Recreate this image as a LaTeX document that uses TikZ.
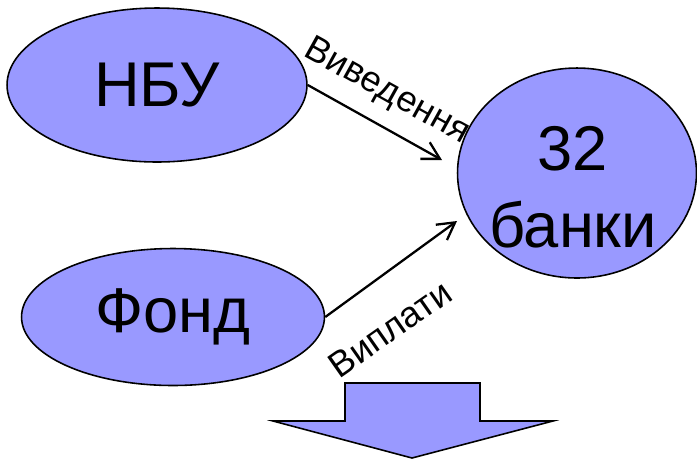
\documentclass[tikz,border=0pt]{standalone}
\usepackage{fontspec}
\setmainfont{Liberation Sans}
\usetikzlibrary{arrows.meta,shapes.geometric}
\definecolor{bankblue}{HTML}{9999FF}

\begin{document}
\begin{tikzpicture}[x=0.02cm, y=-0.02cm,
  oval/.style={ellipse, draw=black, line width=0.9pt, fill=bankblue, inner sep=0pt,
    font=\fontsize{36}{44}\selectfont, align=center},
  flow/.style={black, line width=1.3pt, -{Straight Barb[length=0.34cm,width=0.38cm]}},
  lbl/.style={font=\fontsize{20.5}{24}\selectfont, inner sep=0pt}]
\useasboundingbox (0,0) rectangle (697,458);

\node [oval, minimum width=6cm, minimum height=3.08cm] (nbu) at (157,85) {НБУ};
\node [oval, minimum width=6.06cm, minimum height=2.74cm] (fond) at (173,317) {Фонд};
\node [oval, minimum width=4.78cm, minimum height=4.2cm] (banky) at (577,173) {};
\node [font=\fontsize{36}{44}\selectfont, align=center] (bankytext) at (573,187) {32\\банки};

\coordinate (vin) at (442,160);
\coordinate (vout) at (457,221);
\draw [flow] (nbu.east) -- (vin);
\draw [flow] (fond.east) -- (vout);

\node [lbl, rotate=-29] (vyved) at (387,92) {Виведення};
\node [lbl, rotate=35] (vypl) at (390,329) {Виплати};

% big arrow down
\draw [black, line width=0.9pt, fill=bankblue] (345,383) -- (480,383) -- (480,421) -- (553,421)
  -- (412,458) -- (273,421) -- (345,421) -- cycle;

\end{tikzpicture}
\end{document}
